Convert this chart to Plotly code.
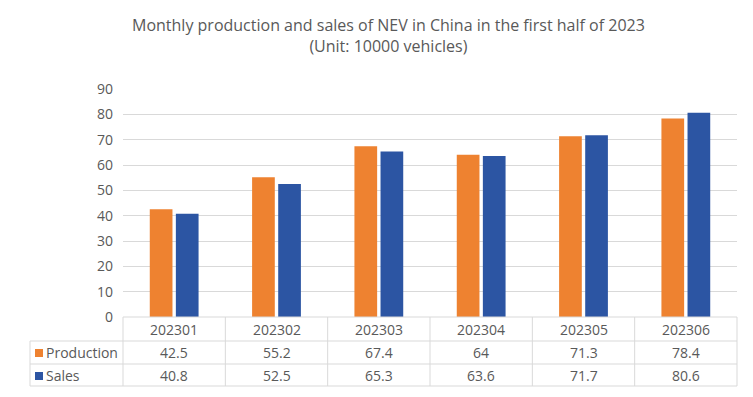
import plotly.graph_objects as go

# ---- data ----
months = ["202301", "202302", "202303", "202304", "202305", "202306"]
production = [42.5, 55.2, 67.4, 64, 71.3, 78.4]
sales = [40.8, 52.5, 65.3, 63.6, 71.7, 80.6]
series_names = ["Production", "Sales"]
y_ticks = [0, 10, 20, 30, 40, 50, 60, 70, 80, 90]
title_lines = ["Monthly production and sales of NEV in China in the first half of 2023",
               "(Unit: 10000 vehicles)"]

# ---- style ----
C_PROD = "#EE8230"
C_SALES = "#2C55A3"
TXT = "#595959"
LINE = "#D9D9D9"
FONT = "Open Sans"

W, H = 753, 397
L, R, T, B = 123, 737, 89, 317
PW, PH = R - L, B - T


def px_x(p):
    return (p - L) / PW


def px_y(p):
    return (B - p) / PH


fig = go.Figure()
fig.add_trace(go.Bar(x=months, y=production, name=series_names[0],
                     marker=dict(color=C_PROD, line=dict(width=0))))
fig.add_trace(go.Bar(x=months, y=sales, name=series_names[1],
                     marker=dict(color=C_SALES, line=dict(width=0))))

shapes = []
# table horizontal lines
shapes.append(dict(type="line", xref="paper", yref="paper", x0=0, x1=1,
                   y0=px_y(B), y1=px_y(B), line=dict(color=LINE, width=1)))
for yy in [341, 364, 386]:
    shapes.append(dict(type="line", xref="paper", yref="paper", x0=px_x(30), x1=1,
                       y0=px_y(yy), y1=px_y(yy), line=dict(color=LINE, width=1)))
# left edge of label column
shapes.append(dict(type="line", xref="paper", yref="paper", x0=px_x(30), x1=px_x(30),
                   y0=px_y(341), y1=px_y(386), line=dict(color=LINE, width=1)))
# column separators
n = len(months)
for k in range(n + 1):
    shapes.append(dict(type="line", xref="paper", yref="paper", x0=k / n, x1=k / n,
                       y0=px_y(B), y1=px_y(386), line=dict(color=LINE, width=1)))
# legend keys
for color, (ya, yb) in zip([C_PROD, C_SALES], [(349, 357), (372, 380)]):
    shapes.append(dict(type="rect", xref="paper", yref="paper",
                       x0=px_x(35), x1=px_x(43), y0=px_y(yb), y1=px_y(ya),
                       fillcolor=color, line=dict(width=0)))

annotations = []
row_centers = [329.5, 352.5, 375.5]
TFS = 14
for i, m in enumerate(months):
    annotations.append(dict(x=i, xref="x", y=px_y(row_centers[0]), yref="paper",
                            text=m, showarrow=False, xanchor="center", yanchor="middle",
                            font=dict(family=FONT, size=TFS, color=TXT)))
for vals, rc in zip([production, sales], row_centers[1:]):
    for i, v in enumerate(vals):
        annotations.append(dict(x=i, xref="x", y=px_y(rc), yref="paper",
                                text=f"{v:g}", showarrow=False, xanchor="center",
                                yanchor="middle",
                                font=dict(family=FONT, size=TFS, color=TXT)))
for name, rc in zip(series_names, row_centers[1:]):
    annotations.append(dict(x=px_x(44), xref="paper", y=px_y(rc), yref="paper",
                            text=name, showarrow=False, xanchor="left", yanchor="middle",
                            font=dict(family=FONT, size=TFS, color=TXT)))
# chart title
annotations.append(dict(x=px_x(388), xref="paper", y=px_y(12), yref="paper",
                        text="<br>".join(title_lines), showarrow=False,
                        xanchor="center", yanchor="top", align="center",
                        font=dict(family=FONT, size=16, color=TXT)))

fig.update_layout(
    width=W, height=H,
    margin=dict(l=L, r=W - R, t=T, b=H - B, pad=0),
    paper_bgcolor="white", plot_bgcolor="white",
    barmode="group", bargap=0.49, bargroupgap=0.13,
    showlegend=False,
    xaxis=dict(type="category", showticklabels=False, showgrid=False, zeroline=False,
               showline=False, ticks="", range=[-0.5, n - 0.5]),
    yaxis=dict(range=[0, 90], tickvals=y_ticks, showgrid=True, gridcolor=LINE,
               gridwidth=1, zeroline=False, showline=False, ticks="",
               ticklabelstandoff=9,
               tickfont=dict(family=FONT, size=14, color=TXT)),
    shapes=shapes, annotations=annotations,
)

fig.write_html("out.html", config={"displayModeBar": False},
               post_script="document.body.style.margin='0';")
